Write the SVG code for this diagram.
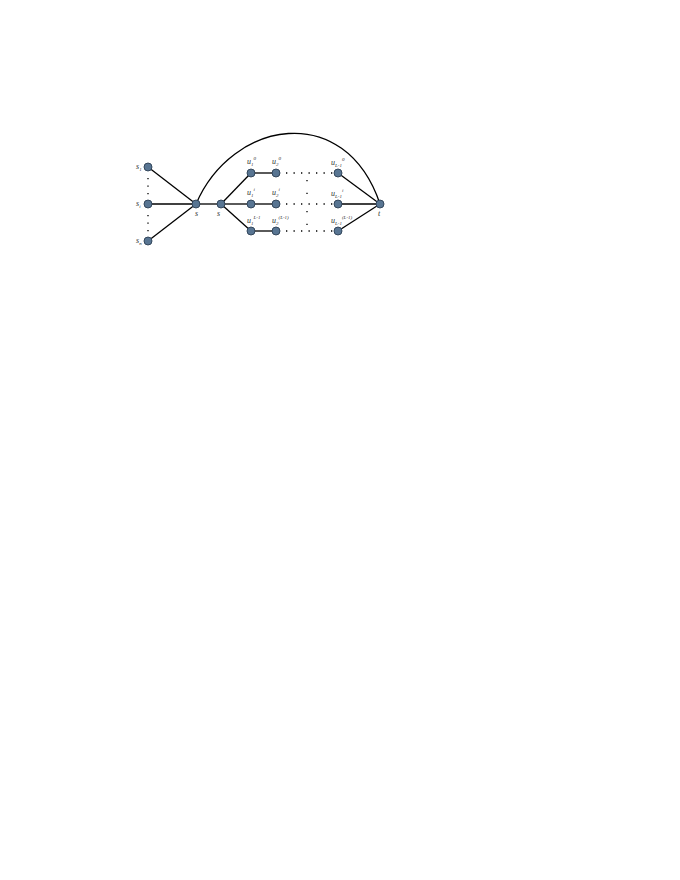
<svg xmlns="http://www.w3.org/2000/svg" width="680" height="880" viewBox="0 0 680 880">
<style>
.e{stroke:#000;stroke-width:1.3;fill:none}
.d{stroke:#000;stroke-width:1.3;fill:none;stroke-dasharray:1.3 6.2}
.n{fill:#587592;stroke:#2c3f55;stroke-width:0.9}
text{font-family:"Liberation Serif",serif;font-style:italic;font-size:8px;fill:#333}
.sb{font-size:5px}
</style>
<rect width="680" height="880" fill="#fff"/>
<g id="connectors">
<path class="e" d="M196,204 C232,120 345,100 380,204"/>
<line class="e" x1="148" y1="167" x2="196" y2="204"/>
<line class="e" x1="148" y1="204" x2="196" y2="204"/>
<line class="e" x1="148" y1="241" x2="196" y2="204"/>
<line class="e" x1="196" y1="204" x2="221" y2="204"/>
<line class="e" x1="221" y1="204" x2="251" y2="173"/>
<line class="e" x1="221" y1="204" x2="251" y2="204"/>
<line class="e" x1="221" y1="204" x2="251" y2="231"/>
<line class="e" x1="251" y1="173" x2="276" y2="173"/>
<line class="e" x1="251" y1="204" x2="276" y2="204"/>
<line class="e" x1="251" y1="231" x2="276" y2="231"/>
<line class="e" x1="338" y1="173" x2="380" y2="204"/>
<line class="e" x1="338" y1="204" x2="380" y2="204"/>
<line class="e" x1="338" y1="231" x2="380" y2="204"/>
<line class="d" x1="148" y1="178" x2="148" y2="200"/>
<line class="d" x1="148" y1="215" x2="148" y2="238"/>
<line class="d" x1="286" y1="173" x2="334" y2="173"/>
<line class="d" x1="286" y1="204" x2="334" y2="204"/>
<line class="d" x1="286" y1="231" x2="334" y2="231"/>
<line class="d" x1="307" y1="180" x2="307" y2="200" style="stroke-dasharray:1.3 11.5"/>
<line class="d" x1="307" y1="211" x2="307" y2="228" style="stroke-dasharray:1.3 11.5"/>
</g>
<g id="s1"><circle class="n" cx="148" cy="167" r="4"/><text x="136" y="169">s<tspan class="sb" dy="1.5">1</tspan></text></g>
<g id="si"><circle class="n" cx="148" cy="204" r="4"/><text x="136" y="206">s<tspan class="sb" dy="1.5">i</tspan></text></g>
<g id="sn"><circle class="n" cx="148" cy="241" r="4"/><text x="136" y="243">s<tspan class="sb" dy="1.5">n</tspan></text></g>
<g id="s"><circle class="n" cx="196" cy="204" r="4"/><text x="195" y="216">s</text></g>
<g id="s2"><circle class="n" cx="221" cy="204" r="4"/><text x="217" y="216">s</text></g>
<g id="u10"><circle class="n" cx="251" cy="173" r="4"/><text x="247" y="164">u<tspan class="sb" dy="1.5">1</tspan><tspan class="sb" dy="-6">0</tspan></text></g>
<g id="u20"><circle class="n" cx="276" cy="173" r="4"/><text x="272" y="164">u<tspan class="sb" dy="1.5">2</tspan><tspan class="sb" dy="-6">0</tspan></text></g>
<g id="uL0"><circle class="n" cx="338" cy="173" r="4"/><text x="331" y="165">u<tspan class="sb" dy="1.5">L-1</tspan><tspan class="sb" dy="-6">0</tspan></text></g>
<g id="u1i"><circle class="n" cx="251" cy="204" r="4"/><text x="247" y="195">u<tspan class="sb" dy="1.5">1</tspan><tspan class="sb" dy="-6">i</tspan></text></g>
<g id="u2i"><circle class="n" cx="276" cy="204" r="4"/><text x="272" y="195">u<tspan class="sb" dy="1.5">2</tspan><tspan class="sb" dy="-6">i</tspan></text></g>
<g id="uLi"><circle class="n" cx="338" cy="204" r="4"/><text x="331" y="196">u<tspan class="sb" dy="1.5">L-1</tspan><tspan class="sb" dy="-6">i</tspan></text></g>
<g id="u1L"><circle class="n" cx="251" cy="231" r="4"/><text x="247" y="223">u<tspan class="sb" dy="1.5">1</tspan><tspan class="sb" dy="-6">L-1</tspan></text></g>
<g id="u2L"><circle class="n" cx="276" cy="231" r="4"/><text x="272" y="223">u<tspan class="sb" dy="1.5">2</tspan><tspan class="sb" dy="-6">(L-1)</tspan></text></g>
<g id="uLL"><circle class="n" cx="338" cy="231" r="4"/><text x="331" y="223">u<tspan class="sb" dy="1.5">L-1</tspan><tspan class="sb" dy="-6">(L-1)</tspan></text></g>
<g id="t"><circle class="n" cx="380" cy="204" r="4"/><text x="378" y="216">t</text></g>
</svg>
